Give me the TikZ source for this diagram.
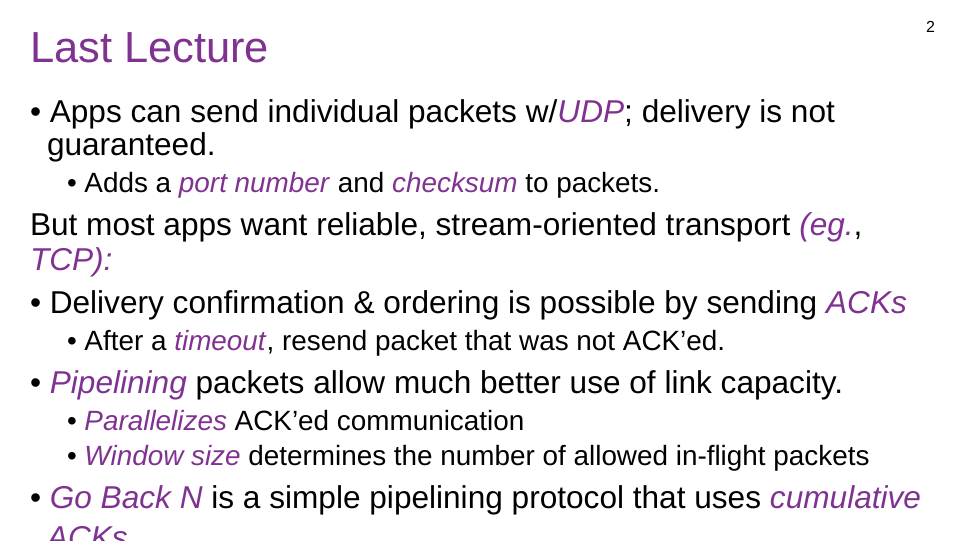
\documentclass[tikz,border=0pt]{standalone}
\usepackage{fontspec}
\setmainfont{Liberation Sans}
\definecolor{pur}{RGB}{128,50,145}
\begin{document}
\begin{tikzpicture}[x=0.75pt,y=-0.75pt,
  every node/.style={anchor=base west,inner sep=0pt,outer sep=0pt},
  title/.style={font=\fontsize{32.6}{32}\selectfont,text=pur},
  main/.style={font=\fontsize{23.7}{24}\selectfont},
  sub/.style={font=\fontsize{20.9}{21}\selectfont},
  pg/.style={font=\fontsize{12}{12}\selectfont}]
\useasboundingbox (0,0) rectangle (960,540);
\newcommand{\hl}[1]{\textcolor{pur}{\textit{#1}}}
\node[title] (t) at (30,62) {Last Lecture};
\node[pg] (p) at (926,32) {2};
\node[main] (a1) at (30,122) {• Apps can send individual packets w/\hl{UDP}; delivery is not};
\node[main] (a2) at (47,155) {guaranteed.};
\node[sub] (a3) at (67,192) {• Adds a \hl{port number} and \hl{checksum} to packets.};
\node[main] (b1) at (30,235) {But most apps want reliable, stream-oriented transport \hl{(eg.}, };
\node[main] (b2) at (30,270) {\hl{TCP):}};
\node[main] (c1) at (30,313) {• Delivery confirmation \& ordering is possible by sending \hl{ACKs}};
\node[sub] (c2) at (67,350) {• After a \hl{timeout}, resend packet that was not ACK’ed.};
\node[main] (d1) at (30,393) {• \hl{Pipelining} packets allow much better use of link capacity.};
\node[sub] (d2) at (67,430) {• \hl{Parallelizes} ACK’ed communication};
\node[sub] (d3) at (67,465) {• \hl{Window size} determines the number of allowed in-flight packets};
\node[main] (e1) at (30,508) {• \hl{Go Back N} is a simple pipelining protocol that uses \hl{cumulative}};
\node[main] (e2) at (47,548) {\hl{ACKs}};
\end{tikzpicture}
\end{document}
